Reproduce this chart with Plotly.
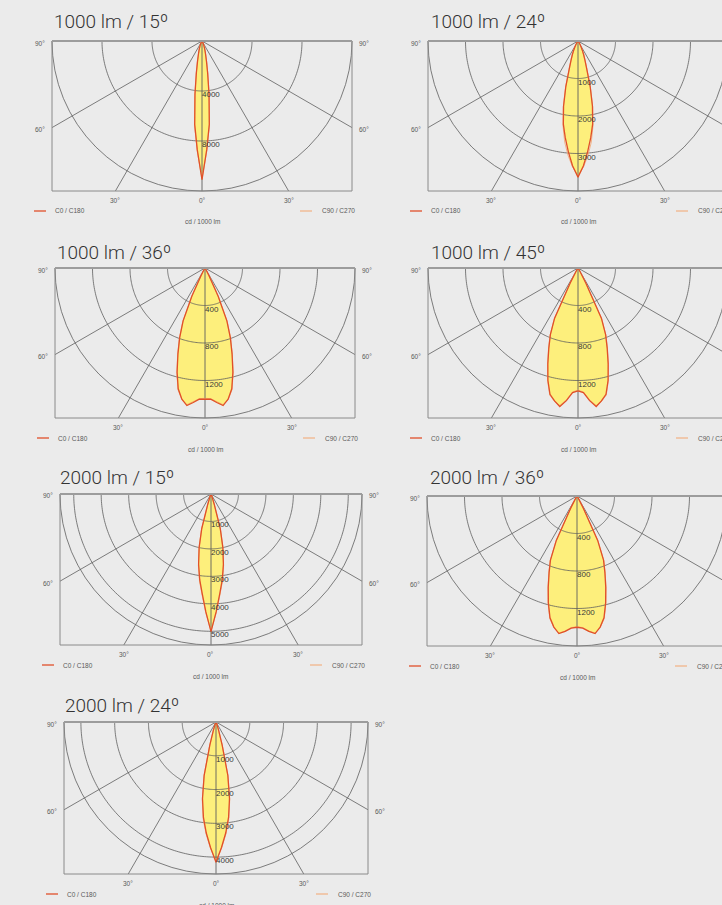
import numpy as np
import plotly.graph_objects as go

# ---------------- data ----------------
angles = [0, 2.5, 5, 7.5, 10, 12.5, 15, 17.5, 20, 22.5, 25, 27.5, 30, 35, 40, 50, 60, 70, 80, 90]

titles = ["1000 lm / 15º", "1000 lm / 24º", "1000 lm / 36º", "1000 lm / 45º",
          "2000 lm / 15º", "2000 lm / 36º", "2000 lm / 24º"]

lm1000_15_c0 = [11100, 8700, 6700, 4300, 2600, 1650, 1100, 800, 550, 380, 250, 160, 100, 50, 30, 10, 5, 0, 0, 0]
lm1000_15_c90 = [11000, 8800, 6800, 4400, 2700, 1700, 1150, 820, 560, 390, 260, 170, 110, 55, 30, 10, 5, 0, 0, 0]
lm1000_24_c0 = [3630, 3330, 2960, 2600, 2250, 1780, 1250, 760, 540, 390, 270, 180, 120, 50, 20, 5, 0, 0, 0, 0]
lm1000_24_c90 = [3600, 3360, 3060, 2720, 2300, 1820, 1290, 800, 560, 400, 280, 185, 120, 50, 20, 5, 0, 0, 0, 0]
lm1000_36_c0 = [1400, 1400, 1440, 1480, 1420, 1320, 1150, 960, 790, 610, 330, 90, 30, 10, 5, 0, 0, 0, 0, 0]
lm1000_36_c90 = [1390, 1395, 1430, 1470, 1425, 1330, 1160, 970, 800, 620, 340, 95, 30, 10, 5, 0, 0, 0, 0, 0]
lm1000_45_c0 = [1310, 1330, 1420, 1490, 1440, 1380, 1240, 1070, 910, 770, 590, 180, 40, 15, 5, 0, 0, 0, 0, 0]
lm1000_45_c90 = [1300, 1325, 1410, 1480, 1445, 1390, 1250, 1080, 920, 780, 600, 190, 45, 15, 5, 0, 0, 0, 0, 0]
lm2000_15_c0 = [5010, 4300, 3650, 3150, 2600, 1990, 1300, 380, 130, 70, 40, 25, 15, 8, 0, 0, 0, 0, 0, 0]
lm2000_15_c90 = [4980, 4330, 3700, 3200, 2640, 2020, 1330, 400, 140, 75, 40, 25, 15, 8, 0, 0, 0, 0, 0, 0]
lm2000_36_c0 = [1400, 1410, 1450, 1480, 1420, 1330, 1180, 1020, 870, 740, 520, 140, 35, 10, 5, 0, 0, 0, 0, 0]
lm2000_36_c90 = [1395, 1405, 1445, 1475, 1425, 1340, 1190, 1030, 880, 750, 530, 150, 35, 10, 5, 0, 0, 0, 0, 0]
lm2000_24_c0 = [4150, 3720, 3300, 2850, 2300, 1620, 700, 260, 110, 60, 35, 20, 12, 5, 0, 0, 0, 0, 0, 0]
lm2000_24_c90 = [4120, 3740, 3340, 2900, 2340, 1650, 730, 270, 115, 60, 35, 20, 12, 5, 0, 0, 0, 0, 0, 0]

c0_series = [lm1000_15_c0, lm1000_24_c0, lm1000_36_c0, lm1000_45_c0, lm2000_15_c0, lm2000_36_c0, lm2000_24_c0]
c90_series = [lm1000_15_c90, lm1000_24_c90, lm1000_36_c90, lm1000_45_c90, lm2000_15_c90, lm2000_36_c90, lm2000_24_c90]

radial_max = [12000, 4000, 1600, 1600, 5500, 1600, 4500]
radial_ticks = [[4000, 8000], [1000, 2000, 3000], [400, 800, 1200], [400, 800, 1200],
                [1000, 2000, 3000, 4000, 5000], [400, 800, 1200], [1000, 2000, 3000, 4000]]
angle_ticks = [0, 30, 60, 90]
angle_labels = ["0°", "30°", "60°", "90°"]
legend_labels = ["C0 / C180", "C90 / C270"]
unit_label = "cd / 1000 lm"

# ---------------- layout / style ----------------
W, H = 760, 905          # figure is wider than the 722 px window: right column is cropped
VISIBLE_W = 722
BG = "#ebebeb"
GRID = "#5e5e5e"
FILL = "#fdef7c"
RED = "#e0502a"
PALE = "#f3a56e"
TXT = "#5a5a5a"

# left, top, width (px) of each diagram frame
boxes = [(52, 41, 300), (428, 41, 300), (55, 268, 300), (428, 268, 300),
         (60, 494, 302), (427, 496, 300), (64, 722, 304)]
title_pos = [(52, 22), (429, 22), (55, 252), (429, 252), (58, 477), (428, 477), (63, 705)]


def px(x):
    return x / W


def py(y):
    return 1 - y / H


def mirror(vals):
    th = [-a for a in reversed(angles)] + angles[1:]
    rr = list(reversed(vals)) + vals[1:]
    return th, rr


fig = go.Figure()
layout = dict(
    width=W, height=H, margin=dict(l=0, r=0, t=0, b=0),
    paper_bgcolor=BG, plot_bgcolor=BG, showlegend=False,
)
shapes = []
annotations = []
arc = list(np.linspace(-90, 90, 181))


def add_text(text, x, y, font, xanchor="center", yanchor="middle"):
    if x > VISIBLE_W + 2:
        return
    annotations.append(dict(text=text, x=px(x), y=py(y), xref="paper", yref="paper",
                            xanchor=xanchor, yanchor=yanchor, showarrow=False, font=font))


for i in range(7):
    pid = "polar" if i == 0 else f"polar{i + 1}"
    L, T, Wd = boxes[i]
    Rpx = Wd / 2
    B = T + Rpx
    cx = L + Rpx
    Rmax = radial_max[i]

    layout[pid] = dict(
        domain=dict(x=[px(L), px(L + Wd)], y=[py(B), py(T)]),
        sector=[180, 360],
        bgcolor="rgba(0,0,0,0)",
        angularaxis=dict(rotation=270, direction="counterclockwise", dtick=30, tick0=0,
                         showticklabels=False, ticks="", showgrid=False,
                         showline=True, linecolor=GRID, linewidth=0.8),
        radialaxis=dict(range=[0, Rmax], showgrid=False, showticklabels=False, ticks="",
                        showline=False),
    )

    # angular grid rays, extended from the origin to the frame
    for a in angle_ticks[1:3]:
        for s in (-1, 1):
            if a == 30:
                x_end, y_end = cx + s * Rpx * np.tan(np.radians(a)), B
            else:
                x_end, y_end = (L if s < 0 else L + Wd), T + Rpx / np.tan(np.radians(a))
            shapes.append(dict(type="line", xref="paper", yref="paper", layer="below",
                               x0=px(cx), y0=py(T), x1=px(x_end), y1=py(y_end),
                               line=dict(color=GRID, width=0.8)))

    th0, r0 = mirror(c0_series[i])
    th9, r9 = mirror(c90_series[i])

    # yellow fill
    fig.add_trace(go.Scatterpolar(r=r0, theta=th0, subplot=pid, mode="lines", fill="toself",
                                  fillcolor=FILL, line=dict(color=FILL, width=0.5), hoverinfo="skip"))
    # grid circles + 0° ray over the fill
    for t in radial_ticks[i]:
        fig.add_trace(go.Scatterpolar(r=[t] * len(arc), theta=arc, subplot=pid, mode="lines",
                                      line=dict(color=GRID, width=0.8), hoverinfo="skip"))
    fig.add_trace(go.Scatterpolar(r=[0, Rmax], theta=[0, 0], subplot=pid, mode="lines",
                                  line=dict(color=GRID, width=0.9), hoverinfo="skip"))
    # curves
    fig.add_trace(go.Scatterpolar(r=r9, theta=th9, subplot=pid, mode="lines",
                                  line=dict(color=PALE, width=0.8), hoverinfo="skip"))
    fig.add_trace(go.Scatterpolar(r=r0, theta=th0, subplot=pid, mode="lines",
                                  line=dict(color=RED, width=1.3), hoverinfo="skip"))
    # radial tick labels
    fig.add_trace(go.Scatterpolar(r=radial_ticks[i], theta=[0] * len(radial_ticks[i]), subplot=pid,
                                  mode="text", text=[str(t) for t in radial_ticks[i]],
                                  textposition="bottom right", cliponaxis=False,
                                  textfont=dict(family="Liberation Sans", size=8, color="#3a3a3a"),
                                  hoverinfo="skip"))

    # frame
    shapes.append(dict(type="rect", xref="paper", yref="paper", x0=px(L), x1=px(L + Wd),
                       y0=py(B), y1=py(T), line=dict(color="#8a8a8a", width=1)))
    shapes.append(dict(type="line", xref="paper", yref="paper", x0=px(L), x1=px(L + Wd),
                       y0=py(T), y1=py(T), line=dict(color="#9c9c9c", width=2)))

    # title
    tx, ty = title_pos[i]
    add_text(titles[i], tx, ty, dict(family="Roboto", size=19, color="#333333", weight=300),
             xanchor="left")

    small = dict(family="Liberation Sans", size=6.5, color=TXT)
    for a, lab in zip(angle_ticks, angle_labels):
        if a == 0:
            add_text(lab, cx, B + 9, small)
        elif a == 30:
            off = Rpx * np.tan(np.radians(a))
            for s in (-1, 1):
                add_text(lab, cx + s * off, B + 9, small)
        else:
            yy = T + Rpx / np.tan(np.radians(a)) + 2
            for xx in (L - 12, L + Wd + 12):
                add_text(lab, xx, yy, small)

    # mini legend
    ly = B + 20
    shapes.append(dict(type="line", xref="paper", yref="paper", x0=px(L - 18), x1=px(L - 6),
                       y0=py(ly), y1=py(ly), line=dict(color=RED, width=1.3)))
    add_text(legend_labels[0], L + 1, ly, small, xanchor="left")
    shapes.append(dict(type="line", xref="paper", yref="paper", x0=px(L + Wd - 52), x1=px(L + Wd - 40),
                       y0=py(ly), y1=py(ly), line=dict(color=PALE, width=1)))
    add_text(legend_labels[1], L + Wd - 32, ly, small, xanchor="left")
    add_text(unit_label, cx, B + 31, small)

layout["shapes"] = shapes
layout["annotations"] = annotations
fig.update_layout(**layout)

fig.write_html(
    "out.html",
    config={"displayModeBar": False},
    post_script="document.documentElement.style.overflow='hidden';"
                "document.body.style.overflow='hidden';document.body.style.margin='0';",
)
